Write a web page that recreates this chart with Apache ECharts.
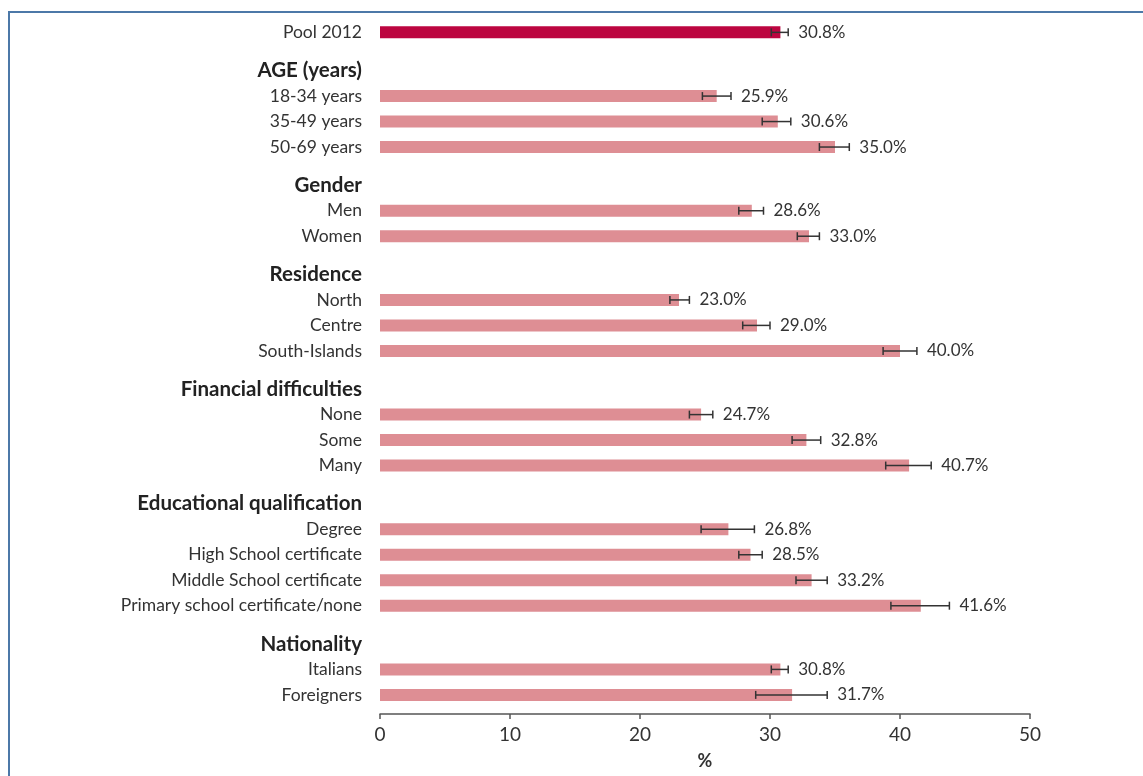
<!DOCTYPE html>
<html>
<head>
<meta charset="utf-8">
<script src="https://cdn.jsdelivr.net/npm/echarts@6/dist/echarts.min.js"></script>
<style>
html,body{margin:0;padding:0;background:#fff;}
#chart{width:1143px;height:776px;}
</style>
</head>
<body>
<div id="chart"></div>
<script>
// ---- data ----
const rowLabels = ['Pool 2012','AGE (years)','18-34 years','35-49 years','50-69 years',
  'Gender','Men','Women','Residence','North','Centre','South-Islands',
  'Financial difficulties','None','Some','Many',
  'Educational qualification','Degree','High School certificate','Middle School certificate','Primary school certificate/none',
  'Nationality','Italians','Foreigners'];
const headerRows = ['AGE (years)','Gender','Residence','Financial difficulties','Educational qualification','Nationality'];
const values = [30.8, null, 25.9, 30.6, 35.0, null, 28.6, 33.0, null, 23.0, 29.0, 40.0,
  null, 24.7, 32.8, 40.7, null, 26.8, 28.5, 33.2, 41.6, null, 30.8, 31.7];
const ciLow  = [30.1, null, 24.8, 29.4, 33.8, null, 27.6, 32.1, null, 22.3, 27.9, 38.7,
  null, 23.8, 31.7, 38.9, null, 24.7, 27.6, 32.0, 39.3, null, 30.1, 28.9];
const ciHigh = [31.4, null, 27.0, 31.6, 36.1, null, 29.5, 33.8, null, 23.8, 30.0, 41.3,
  null, 25.6, 33.9, 42.4, null, 28.8, 29.4, 34.4, 43.8, null, 31.4, 34.4];
const xTicks = [0, 10, 20, 30, 40, 50];
const axisTitle = '%';

// ---- build category slots (layout spacing) ----
const slots = [];
const slotOfRow = [];
rowLabels.forEach((lab, i) => {
  if (i > 0) {
    const gaps = headerRows.includes(lab) ? 2 : 1;
    for (let g = 0; g < gaps; g++) slots.push('gap_' + slots.length);
  }
  slotOfRow.push(slots.length);
  slots.push(lab);
});
slots.push('gap_' + slots.length);

const barData = slots.map(() => null);
const errData = [];
rowLabels.forEach((lab, i) => {
  if (values[i] == null) return;
  const s = slotOfRow[i];
  barData[s] = {
    value: values[i],
    itemStyle: { color: i === 0 ? '#BC0540' : '#DE8E94' }
  };
  errData.push([s, ciLow[i], ciHigh[i], values[i]]);
});

const chart = echarts.init(document.getElementById('chart'));
const FONT = 'Lato, "Open Sans", sans-serif';
chart.setOption({
  animation: false,
  backgroundColor: '#fff',
  graphic: [{
    type: 'rect',
    shape: { x: 9, y: 12, width: 1300, height: 900 },
    style: { fill: 'none', stroke: '#4C78A8', lineWidth: 2 },
    silent: true
  }],
  grid: { left: 380, right: 113, top: 26, bottom: 62, containLabel: false, outerBoundsMode: 'none' },
  xAxis: {
    type: 'value', min: xTicks[0], max: xTicks[xTicks.length - 1], interval: 10,
    splitLine: { show: false },
    axisLine: { show: true, lineStyle: { color: '#555', width: 1.5 } },
    axisTick: { show: true, inside: false, length: 5, lineStyle: { color: '#555', width: 1.5 } },
    axisLabel: { fontFamily: FONT, fontSize: 19, color: '#333', margin: 11 },
    name: axisTitle, nameLocation: 'middle', nameGap: 38,
    nameTextStyle: { fontFamily: FONT, fontSize: 18, fontWeight: 'bold', color: '#333' }
  },
  yAxis: {
    type: 'category', data: slots, inverse: true,
    axisLine: { show: false }, axisTick: { show: false },
    axisLabel: {
      interval: 0, margin: 18,
      formatter: v => v.startsWith('gap_') ? '' : (headerRows.includes(v) ? '{h|' + v + '}' : '{n|' + v + '}'),
      rich: {
        h: { fontFamily: FONT, fontSize: 20.5, fontWeight: 'bold', color: '#222' },
        n: { fontFamily: FONT, fontSize: 17.5, color: '#333' }
      }
    }
  },
  series: [{
    type: 'bar', data: barData, barWidth: 12, barGap: '-100%'
  }, {
    type: 'custom',
    data: errData,
    encode: { x: [1, 2], y: 0 },
    renderItem: function (params, api) {
      const s = api.value(0);
      const lo = api.coord([api.value(1), s]);
      const hi = api.coord([api.value(2), s]);
      const h = 4;
      const st = { stroke: '#333', lineWidth: 1.5 };
      return {
        type: 'group',
        children: [
          { type: 'line', shape: { x1: lo[0], y1: lo[1], x2: hi[0], y2: hi[1] }, style: st },
          { type: 'line', shape: { x1: lo[0], y1: lo[1] - h, x2: lo[0], y2: lo[1] + h }, style: st },
          { type: 'line', shape: { x1: hi[0], y1: hi[1] - h, x2: hi[0], y2: hi[1] + h }, style: st },
          { type: 'text', style: {
              x: hi[0] + 10, y: hi[1], text: api.value(3).toFixed(1) + '%',
              fill: '#333', font: '17px ' + FONT, textVerticalAlign: 'middle', verticalAlign: 'middle'
          } }
        ]
      };
    },
    z: 5
  }]
});
</script>
</body>
</html>
